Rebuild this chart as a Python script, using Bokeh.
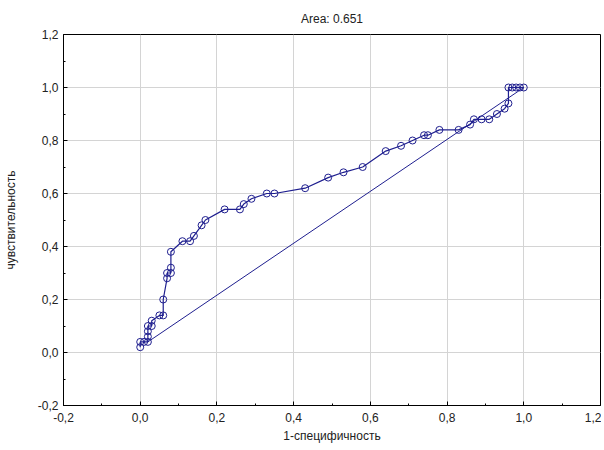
from bokeh.plotting import figure
from bokeh.models import Range1d, LinearAxis, FixedTicker, CustomJSTickFormatter
from bokeh.embed import file_html
from bokeh.resources import INLINE

# ROC curve points (1-specificity, sensitivity)
fpr = [0.00, 0.00, 0.01, 0.02, 0.02, 0.02, 0.02, 0.03, 0.03, 0.05, 0.06, 0.06,
       0.07, 0.07, 0.08, 0.08, 0.08, 0.11, 0.13, 0.14, 0.16, 0.17, 0.22, 0.26,
       0.27, 0.29, 0.33, 0.35, 0.43, 0.49, 0.53, 0.58, 0.64, 0.68, 0.71, 0.74,
       0.75, 0.78, 0.83, 0.86, 0.87, 0.89, 0.91, 0.93, 0.95, 0.96, 0.96, 0.97,
       0.98, 0.99, 1.00]
tpr = [0.02, 0.04, 0.04, 0.04, 0.06, 0.08, 0.10, 0.10, 0.12, 0.14, 0.14, 0.20,
       0.28, 0.30, 0.30, 0.32, 0.38, 0.42, 0.42, 0.44, 0.48, 0.50, 0.54, 0.54,
       0.56, 0.58, 0.60, 0.60, 0.62, 0.66, 0.68, 0.70, 0.76, 0.78, 0.80, 0.82,
       0.82, 0.84, 0.84, 0.86, 0.88, 0.88, 0.88, 0.90, 0.92, 0.94, 1.00, 1.00,
       1.00, 1.00, 1.00]
# reference (chance) line
ref_x = [0.02, 1.00]
ref_y = [0.04, 1.00]

major_ticks = [-0.2, 0.0, 0.2, 0.4, 0.6, 0.8, 1.0, 1.2]
minor_ticks = [-0.1, 0.1, 0.3, 0.5, 0.7, 0.9, 1.1]
title_text = "Area: 0.651"
x_label = "1-специфичность"
y_label = "чувствительность"

FONT = "Liberation Sans"
LINE = "#1f1f8f"
TXT = "#222222"

p = figure(frame_width=537, frame_height=371, output_backend="svg",
           toolbar_location=None,
           x_range=Range1d(-0.2, 1.2), y_range=Range1d(-0.2, 1.2),
           x_axis_location=None, y_axis_location=None,
           min_border_left=61, min_border_right=1, min_border_top=34,
           min_border_bottom=39)
p.background_fill_color = "white"
p.border_fill_color = "white"
p.outline_line_color = "black"
p.outline_line_width = 1

p.title.text = title_text
p.title.align = "center"
p.title.text_font = FONT
p.title.text_font_size = "12px"
p.title.text_font_style = "normal"
p.title.text_color = TXT
p.title.standoff = 17

fmt = CustomJSTickFormatter(code="return tick.toFixed(1).replace('.', ',');")

def style_axis(ax):
    ax.ticker = FixedTicker(ticks=major_ticks, minor_ticks=minor_ticks)
    ax.formatter = fmt
    ax.axis_line_color = "black"
    ax.major_tick_in = 4
    ax.major_tick_out = 0
    ax.minor_tick_in = 2
    ax.minor_tick_out = 0
    ax.major_tick_line_color = "black"
    ax.minor_tick_line_color = "black"
    ax.major_label_text_font = FONT
    ax.major_label_text_font_size = "12px"
    ax.major_label_text_color = TXT
    ax.axis_label_text_font = FONT
    ax.axis_label_text_font_size = "12px"
    ax.axis_label_text_font_style = "normal"
    ax.axis_label_text_color = TXT

xb = LinearAxis(axis_label=x_label)
style_axis(xb)
xb.major_label_standoff = 7
xb.axis_label_standoff = 4
p.add_layout(xb, "below")

yl = LinearAxis(axis_label=y_label)
style_axis(yl)
yl.major_label_standoff = 5
yl.axis_label_standoff = 17
p.add_layout(yl, "left")

p.xgrid.ticker = FixedTicker(ticks=major_ticks)
p.ygrid.ticker = FixedTicker(ticks=major_ticks)
p.grid.grid_line_color = "#d4d4d4"
p.grid.grid_line_width = 1

p.line(ref_x, ref_y, line_color=LINE, line_width=1)
p.line(fpr, tpr, line_color=LINE, line_width=1.2)
p.scatter(fpr, tpr, marker="circle", size=7, line_color=LINE, line_width=1,
          fill_color="white", fill_alpha=0.0)

open("out.html", "w").write(file_html(p, INLINE))
